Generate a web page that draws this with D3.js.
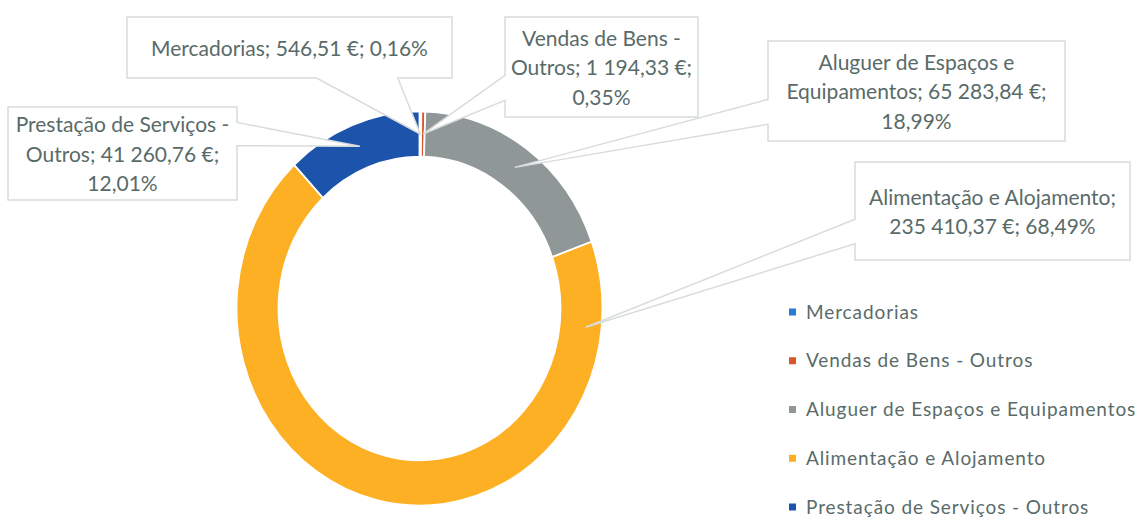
<!DOCTYPE html>
<html>
<head>
<meta charset="utf-8">
<script src="https://cdn.jsdelivr.net/npm/d3@7"></script>
<style>
  body { margin: 0; background: #fff; }
  text { font-family: Lato, "Open Sans", sans-serif; fill: #596b69; }
</style>
</head>
<body>
<div id="vis"></div>
<script>
// data
var categories = ["Mercadorias", "Vendas de Bens - Outros", "Aluguer de Espaços e Equipamentos", "Alimentação e Alojamento", "Prestação de Serviços - Outros"];
var values = [546.51, 1194.33, 65283.84, 235410.37, 41260.76];
var colors = ["#2b77d4", "#d9552c", "#8f9797", "#fdb023", "#1c54ab"];

// callout boxes, dragged by hand in the original (same order as categories)
var callouts = [
  {x: 127, y: 17, w: 325, h: 61, wrap: 400},
  {x: 505, y: 17, w: 193, h: 100, wrap: 200},
  {x: 768, y: 41, w: 297, h: 100, wrap: 275},
  {x: 855, y: 162, w: 275, h: 98, wrap: 320, angle: 96},
  {x: 8, y: 107, w: 229, h: 93, wrap: 240}
];

var width = 1140,
    height = 517,
    cx = 419.5, cy = 308.5,
    rOuter = 183, rInner = 141,
    squash = 1.077, // scan is a bit taller than wide
    lineH = 29.5;

var pt = d3.formatLocale({decimal: ",", thousands: "\u00a0", grouping: [3], currency: ["", "\u00a0€"]});
var fmtEur = pt.format("$,.2f"),
    fmtPct = pt.format(".2%");

var total = d3.sum(values);

var svg = d3.select("#vis").append("svg")
    .attr("width", width)
    .attr("height", height);

// 1. donut
var pie = d3.pie().sort(null).value(function(d) { return d });
var arcs = pie(values);
var arc = d3.arc().innerRadius(rInner).outerRadius(rOuter);

svg.append("g")
    .attr("transform", "translate(" + cx + "," + cy + ") scale(1," + squash + ")")
  .selectAll("path")
    .data(arcs)
    .enter()
    .append("path")
    .attr("d", arc)
    .attr("fill", function(d, i) { return colors[i] })
    .attr("stroke", "#fff")
    .attr("stroke-width", 1.8)
    .attr("vector-effect", "non-scaling-stroke");

function ringPoint(a, r) {
  return [cx + r * Math.sin(a), cy - r * Math.cos(a) * squash];
}

// excel wedgeRectCallout shape
function wedgePath(b, tx, ty) {
  var mx = b.x + b.w / 2, my = b.y + b.h / 2,
      dx = tx - mx, dy = ty - my,
      dq = dx * b.h / b.w,
      x1 = b.x + b.w * (dx > 0 ? 7 : 2) / 12, x2 = b.x + b.w * (dx > 0 ? 10 : 5) / 12,
      y1 = b.y + b.h * (dy > 0 ? 7 : 2) / 12, y2 = b.y + b.h * (dy > 0 ? 10 : 5) / 12,
      r = b.x + b.w, bt = b.y + b.h;
  var p = d3.path();
  p.moveTo(b.x, b.y);
  if (Math.abs(dy) > Math.abs(dq)) {
    if (dy < 0) { p.lineTo(x1, b.y); p.lineTo(tx, ty); p.lineTo(x2, b.y); }
    p.lineTo(r, b.y); p.lineTo(r, bt);
    if (dy > 0) { p.lineTo(x2, bt); p.lineTo(tx, ty); p.lineTo(x1, bt); }
    p.lineTo(b.x, bt);
  } else {
    p.lineTo(r, b.y);
    if (dx > 0) { p.lineTo(r, y1); p.lineTo(tx, ty); p.lineTo(r, y2); }
    p.lineTo(r, bt); p.lineTo(b.x, bt);
    if (dx < 0) { p.lineTo(b.x, y2); p.lineTo(tx, ty); p.lineTo(b.x, y1); }
  }
  p.closePath();
  return p.toString();
}

// 2. callouts
var label = svg.selectAll("g.callout")
    .data(arcs)
    .enter()
    .append("g")
    .attr("class", "callout");

label.each(function(d, i) {
  var b = callouts[i],
      g = d3.select(this),
      a = b.angle != null ? b.angle * Math.PI / 180 : (d.startAngle + d.endAngle) / 2,
      tip = ringPoint(a, (rInner + rOuter) / 2 + (b.angle != null ? 5 : 0));

  g.append("path")
      .attr("d", wedgePath(b, tip[0], tip[1]))
      .attr("fill", "#fff")
      .attr("stroke", "#d8dcdc")
      .attr("stroke-width", 1.5);

  var txt = categories[i] + "; " + fmtEur(values[i]) + "; " + fmtPct(values[i] / total);
  var t = g.append("text")
      .attr("text-anchor", "middle")
      .style("font-size", "21px");

  // word wrap
  var words = txt.split(" "), lines = [], cur = "";
  var probe = t.append("tspan");
  words.forEach(function(w) {
    var test = cur ? cur + " " + w : w;
    probe.text(test);
    if (cur && probe.node().getComputedTextLength() > b.wrap) {
      lines.push(cur);
      cur = w;
    } else {
      cur = test;
    }
  });
  lines.push(cur);
  probe.remove();

  var y0 = b.y + b.h / 2 - (lines.length - 1) * lineH / 2 + 1;
  lines.forEach(function(l, k) {
    t.append("tspan")
        .attr("x", b.x + b.w / 2)
        .attr("y", y0 + k * lineH)
        .attr("dy", "0.35em")
        .text(l);
  });
});

// 3. legend
var legendY = d3.scalePoint()
    .domain(categories)
    .range([312, 507]);

var legend = svg.selectAll("g.legend")
    .data(categories)
    .enter()
    .append("g")
    .attr("class", "legend")
    .attr("transform", function(d) { return "translate(789," + legendY(d) + ")" });

legend.append("rect")
    .attr("x", 0)
    .attr("y", -3.5)
    .attr("width", 7)
    .attr("height", 7)
    .attr("fill", function(d, i) { return colors[i] });

legend.append("text")
    .attr("x", 17)
    .attr("dy", "0.35em")
    .style("font-size", "19px")
    .style("letter-spacing", "0.9px")
    .text(function(d) { return d });
</script>
</body>
</html>
